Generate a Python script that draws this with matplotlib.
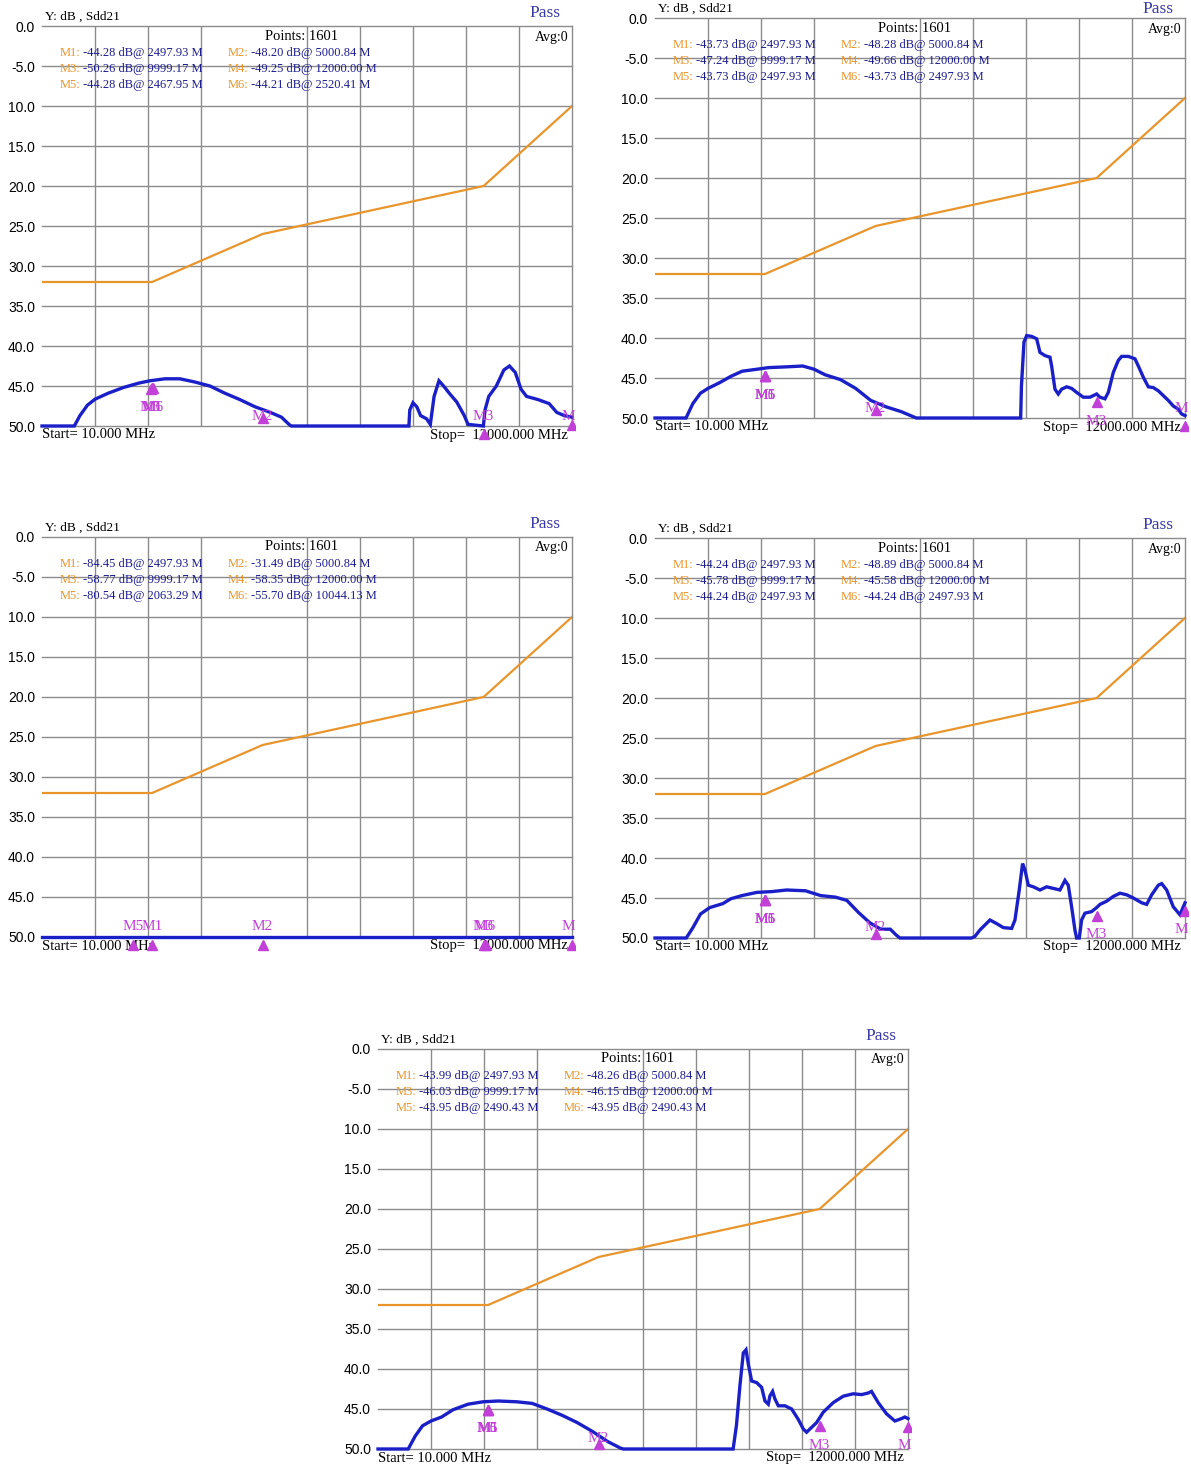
import matplotlib
matplotlib.use("Agg")
import matplotlib.pyplot as plt
import numpy as np
from matplotlib.transforms import Bbox, TransformedBbox

plt.rcParams['font.family'] = ['Liberation Serif', 'DejaVu Serif']

# ---------------- data ----------------
start_mhz = 10.0
stop_mhz = 12000.0
ytick_values = [0, -5, -10, -15, -20, -25, -30, -35, -40, -45, -50]
ytick_labels = ['0.0', '-5.0', '10.0', '15.0', '20.0', '25.0', '30.0', '35.0', '40.0', '45.0', '50.0']

limit_freq = [10, 2500, 5000, 10000, 12000]
limit_db = [-32, -32, -26, -20, -10]

marker_names = ['M1', 'M2', 'M3', 'M4', 'M5', 'M6']

# panel 1 (top left)
freq_p1 = [10, 741, 868, 1037, 1209, 1508, 1845, 2191, 2446, 2790, 3128, 3467, 3809, 4146, 4487,
           4830, 5176, 5428, 5598, 5650, 8310, 8330, 8403, 8490, 8575, 8710, 8795, 8880, 8990,
           9095, 9223, 9393, 9563, 9648, 9995, 10032, 10117, 10288, 10458, 10585, 10716, 10847,
           10972, 11232, 11483, 11655, 11825, 12000]
db_p1 = [-50, -50, -48.7, -47.4, -46.65, -45.9, -45.2, -44.65, -44.35, -44.1, -44.1, -44.5, -45.0,
         -45.9, -46.7, -47.6, -48.3, -48.9, -49.8, -50, -50, -48.0, -47.1, -47.6, -48.7, -49.1,
         -49.8, -46.3, -44.35, -45.0, -45.9, -47.0, -48.7, -49.8, -50, -48.0, -46.3, -45.0, -43.0,
         -42.5, -43.3, -45.4, -46.3, -46.7, -47.2, -48.3, -48.7, -48.9]
mfreq_p1 = [2497.93, 5000.84, 9999.17, 12000.00, 2467.95, 2520.41]
mdb_p1 = [-44.28, -48.20, -50.26, -49.25, -44.28, -44.21]

# panel 2 (top right)
freq_p2 = [10, 712, 866, 1038, 1209, 1466, 1724, 1981, 2323, 2579, 3008, 3352, 3607, 3860, 4206,
           4550, 4890, 5235, 5577, 5920, 8282, 8300, 8357, 8418, 8531, 8644, 8719, 8832, 8945,
           8983, 9058, 9133, 9209, 9322, 9435, 9548, 9699, 9850, 10001, 10076, 10189, 10265,
           10378, 10491, 10567, 10717, 10868, 10944, 11057, 11170, 11283, 11396, 11509, 11622,
           11735, 11848, 11924, 12000]
db_p2 = [-50, -50, -48.2, -46.9, -46.3, -45.6, -44.8, -44.15, -43.9, -43.7, -43.6, -43.5, -43.9,
         -44.6, -45.2, -46.3, -47.8, -48.6, -49.2, -50, -50, -46.0, -40.5, -39.7, -39.8, -40.1,
         -41.8, -42.2, -42.4, -43.5, -46.4, -47.0, -46.4, -46.1, -46.3, -46.8, -47.4, -47.4,
         -47.0, -47.4, -47.6, -46.8, -44.3, -42.8, -42.3, -42.3, -42.6, -43.5, -44.9, -46.1,
         -46.2, -46.6, -47.2, -47.8, -48.5, -48.9, -49.5, -49.7]
mfreq_p2 = [2497.93, 5000.84, 9999.17, 12000.00, 2497.93, 2497.93]
mdb_p2 = [-43.73, -48.28, -47.24, -49.66, -43.73, -43.73]

# panel 3 (middle left) - trace below display floor
freq_p3 = [10, 12000]
db_p3 = [-50, -50]
mfreq_p3 = [2497.93, 5000.84, 9999.17, 12000.00, 2063.29, 10044.13]
mdb_p3 = [-84.45, -31.49, -58.77, -58.35, -80.54, -55.70]

# panel 4 (middle right)
freq_p4 = [10, 717, 868, 1040, 1248, 1545, 1724, 1976, 2313, 2650, 2990, 3414, 3760, 4099, 4350,
           4612, 4870, 5118, 5333, 5460, 5550, 7170, 7248, 7360, 7588, 7739, 7890, 8078, 8153,
           8250, 8325, 8380, 8455, 8568, 8719, 8870, 9020, 9171, 9284, 9359, 9435, 9510, 9548,
           9608, 9661, 9736, 9887, 10000, 10076, 10227, 10378, 10529, 10680, 10831, 11020, 11133,
           11246, 11396, 11472, 11585, 11735, 11886, 12000]
db_p4 = [-50, -50, -48.7, -47.0, -46.2, -45.7, -45.1, -44.7, -44.3, -44.2, -44.0, -44.1, -44.7,
         -44.9, -45.3, -46.8, -48.1, -48.9, -48.9, -49.6, -50, -50, -49.8, -49.0, -47.75, -48.2,
         -48.7, -48.8, -47.75, -44.0, -40.7, -41.5, -43.4, -43.6, -44.0, -43.6, -43.8, -44.0,
         -42.8, -43.4, -46.1, -49.0, -50, -50, -47.75, -46.9, -46.7, -46.2, -45.8, -45.4, -44.8,
         -44.4, -44.6, -45.0, -45.6, -45.8, -44.6, -43.4, -43.2, -44.0, -46.1, -47.1, -45.6]
mfreq_p4 = [2497.93, 5000.84, 9999.17, 12000.00, 2497.93, 2497.93]
mdb_p4 = [-44.24, -48.89, -45.78, -45.58, -44.24, -44.24]

# panel 5 (bottom centre)
freq_p5 = [10, 694, 850, 1017, 1209, 1449, 1704, 2046, 2384, 2730, 3150, 3497, 3835, 4180, 4517,
           4860, 5200, 5500, 5560, 8044, 8120, 8199, 8274, 8335, 8388, 8463, 8576, 8689, 8764,
           8839, 8877, 8937, 8990, 9066, 9217, 9367, 9518, 9631, 9706, 9819, 9932, 10083, 10309,
           10535, 10761, 10950, 11100, 11175, 11326, 11514, 11703, 11853, 11929, 12000]
db_p5 = [-50, -50, -48.4, -47.1, -46.5, -46.0, -45.1, -44.4, -44.1, -44.0, -44.1, -44.3, -45.0,
         -45.8, -46.7, -47.8, -49.05, -49.9, -50, -50, -47.0, -42.0, -38.0, -37.6, -39.4, -41.5,
         -41.7, -42.3, -44.0, -44.4, -43.35, -42.8, -43.75, -44.6, -44.6, -45.0, -46.3, -47.5,
         -47.9, -47.3, -46.7, -45.4, -44.2, -43.4, -43.1, -43.2, -43.0, -42.8, -44.2, -45.6,
         -46.5, -46.2, -46.0, -46.2]
mfreq_p5 = [2497.93, 5000.84, 9999.17, 12000.00, 2490.43, 2490.43]
mdb_p5 = [-43.99, -48.26, -46.03, -46.15, -43.95, -43.95]

panel_data = [
    (freq_p1, db_p1, mfreq_p1, mdb_p1),
    (freq_p2, db_p2, mfreq_p2, mdb_p2),
    (freq_p3, db_p3, mfreq_p3, mdb_p3),
    (freq_p4, db_p4, mfreq_p4, mdb_p4),
    (freq_p5, db_p5, mfreq_p5, mdb_p5),
]

# ---------------- layout / style ----------------
W, H = 1191, 1465
PW, PH = 530, 400
panel_pos = [(42, 26), (655, 18), (42, 537), (655, 538), (378, 1049)]  # (left, top) px

ORANGE = '#e8952c'
BLUE = '#1a1fc8'
NAVY = '#1c1c8e'
MAG = '#c23fd8'
GRID = '#8c8c8c'
PASS = '#3a3aa6'

fig = plt.figure(figsize=(W / 100, H / 100), dpi=100)
fig.patch.set_facecolor('white')


def draw_panel(ax, top_px, freq, db, mfreq, mdb):
    ax.set_xlim(start_mhz, stop_mhz)
    ax.set_ylim(-50, 0)
    for s in ['top', 'bottom', 'left']:
        ax.spines[s].set_visible(False)
    ax.spines['right'].set_color(GRID)
    ax.spines['right'].set_linewidth(1.0)
    ax.set_xticks([])
    ax.set_yticks(ytick_values)
    ax.set_yticklabels(ytick_labels, family=['Liberation Sans', 'DejaVu Sans'], fontsize=10)
    ax.tick_params(axis='y', length=0, pad=5)

    span = stop_mhz - start_mhz
    for k in [1, 2, 3, 5, 6, 7, 8, 9]:
        ax.axvline(start_mhz + k * span / 10, color=GRID, lw=1.0, zorder=0)
    for yv in ytick_values:
        ax.axhline(yv, color=GRID, lw=1.0, zorder=0, clip_on=False)

    ax.plot(limit_freq, limit_db, color=ORANGE, lw=1.6, zorder=2)
    ax.plot(freq, db, color=BLUE, lw=2.4, zorder=3, clip_on=False, solid_joinstyle='miter')

    clipbox = TransformedBbox(Bbox([[-0.01, -0.08], [1.006, 1.0]]), ax.transAxes)
    for name, f in zip(marker_names, mfreq):
        tv = float(np.interp(f, freq, db))
        if tv <= -49.6:
            tri_y, lab_y = -51.0, -48.75
        elif tv < -47.5:
            tri_y, lab_y = tv - 1.0, -48.75
        else:
            tri_y, lab_y = tv - 1.0, tv - 3.4
        ln, = ax.plot([f], [tri_y], marker='^', ms=7.5, color=MAG, mec=MAG, ls='none',
                      zorder=5, clip_on=True)
        ln.set_clip_box(clipbox)
        t = ax.text(f, lab_y, name, color=MAG, fontsize=11, ha='center', va='center',
                    zorder=6, clip_on=True)
        t.set_clip_box(clipbox)

    # readouts
    col_x = [18 / PW, 186 / PW]
    row_y = [1 - 27 / PH, 1 - 43 / PH, 1 - 59 / PH]
    for i, (name, f, v) in enumerate(zip(marker_names, mfreq, mdb)):
        x = col_x[i % 2]
        y = row_y[i // 2]
        ax.text(x, y, name + ':', transform=ax.transAxes, color=ORANGE, fontsize=9,
                ha='left', va='center', zorder=7)
        ax.annotate(f'{v:.2f} dB@ {f:.2f} M', xy=(x, y), xycoords='axes fraction',
                    xytext=(16.5, 0), textcoords='offset points', color=NAVY, fontsize=9,
                    ha='left', va='center', zorder=7)

    title_off = min(9, top_px - 8)
    pass_off = min(13, top_px - 9)
    ax.text(0.49, 1 - 10 / PH, 'Points: 1601', transform=ax.transAxes, fontsize=10.5,
            ha='center', va='center', color='black')
    ax.text(1 - 4 / PW, 1 - 11 / PH, 'Avg:0', transform=ax.transAxes, fontsize=10,
            ha='right', va='center', color='black')
    ax.text(3 / PW, 1 + title_off / PH, 'Y: dB , Sdd21', transform=ax.transAxes, fontsize=9.5,
            ha='left', va='center', color='black')
    ax.text(503 / PW, 1 + pass_off / PH, 'Pass', transform=ax.transAxes, fontsize=12.5,
            ha='center', va='center', color=PASS)
    ax.text(0, -9 / PH, 'Start= 10.000 MHz', transform=ax.transAxes, fontsize=10.5,
            ha='left', va='center', color='black')
    ax.text(1 - 4 / PW, -9 / PH, 'Stop=  12000.000 MHz', transform=ax.transAxes, fontsize=10.5,
            ha='right', va='center', color='black')


for (L, T), (freq, db, mfreq, mdb) in zip(panel_pos, panel_data):
    ax = fig.add_axes([L / W, 1 - (T + PH) / H, PW / W, PH / H])
    ax.set_facecolor('white')
    draw_panel(ax, T, freq, db, mfreq, mdb)

fig.savefig('out.png', dpi=100, facecolor='white')
